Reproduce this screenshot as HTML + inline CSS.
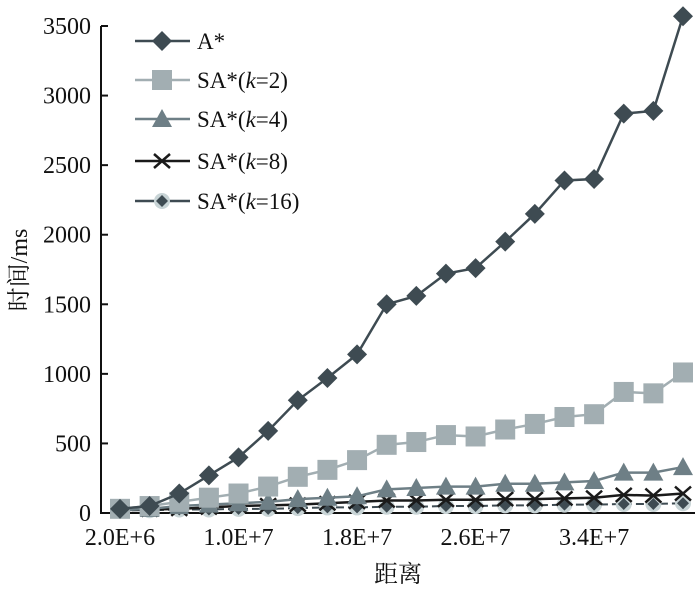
<!DOCTYPE html>
<html><head><meta charset="utf-8"><style>
body{margin:0;background:#fff}
svg text{font-family:"Liberation Serif","Noto Serif CJK SC",serif;fill:#111}
</style></head><body>
<svg id="chart" width="700" height="585" xmlns="http://www.w3.org/2000/svg"></svg>
<script>
const categories=["2.0E+6","4.0E+6","6.0E+6","8.0E+6","1.0E+7","1.2E+7","1.4E+7","1.6E+7","1.8E+7","2.0E+7","2.2E+7","2.4E+7","2.6E+7","2.8E+7","3.0E+7","3.2E+7","3.4E+7","3.6E+7","3.8E+7","4.0E+7"];
const xTickLabels=["2.0E+6","1.0E+7","1.8E+7","2.6E+7","3.4E+7"];
const yTicks=[0,500,1000,1500,2000,2500,3000,3500];
const seriesA=[30,50,140,270,400,590,810,970,1140,1500,1560,1720,1760,1950,2150,2390,2400,2870,2890,3570];
const seriesK2=[30,50,80,110,140,190,260,310,380,490,510,560,550,600,640,690,710,870,860,1010];
const seriesK4=[20,30,50,60,70,80,100,110,120,170,180,190,190,210,210,220,230,290,290,330];
const seriesK8=[20,25,30,40,50,55,60,70,80,90,90,95,95,100,100,105,110,130,125,140];
const seriesK16=[20,20,25,25,30,30,35,40,40,45,45,50,50,55,55,60,60,65,65,70];
const seriesNames=["A*","SA*(k=2)","SA*(k=4)","SA*(k=8)","SA*(k=16)"];

const svg=document.getElementById('chart');
const NS='http://www.w3.org/2000/svg';
const x0=120,x1=683,yBase=513,yTop=26,yMax=3500;
const xs=i=>x0+(x1-x0)*i/(categories.length-1);
const ys=v=>yBase-(yBase-yTop)*v/yMax;
function mk(tag,attrs,parent){const e=document.createElementNS(NS,tag);for(const k in attrs)e.setAttribute(k,attrs[k]);(parent||svg).appendChild(e);return e;}

const ax=mk('path',{d:`M101 ${yTop} V${yBase} H695`,stroke:'#111','stroke-width':2,fill:'none'});


yTicks.forEach(v=>{
  const t=mk('line',{x1:101,x2:108,y1:ys(v),y2:ys(v),stroke:'#111','stroke-width':2});
  
  
  const l=mk('text',{x:91,y:ys(v)+8,'text-anchor':'end','font-size':24});
  l.textContent=v;
  
  
});
xTickLabels.forEach(lbl=>{
  const i=categories.indexOf(lbl);
  const l=mk('text',{x:xs(i),y:545,'text-anchor':'middle','font-size':24});
  l.textContent=lbl;
  
  
});
const xt=mk('text',{x:398,y:582,'text-anchor':'middle','font-size':24});
xt.textContent='距离';


const yt=mk('text',{x:0,y:0,'text-anchor':'middle','font-size':24,transform:'translate(27,270) rotate(-90)'});
yt.textContent='时间/ms';



function marker(type,cx,cy,color,g){
  if(type==='diamond') return mk('polygon',{points:`${cx},${cy-10} ${cx+10},${cy} ${cx},${cy+10} ${cx-10},${cy}`,fill:color},g);
  if(type==='square') return mk('rect',{x:cx-10,y:cy-10,width:20,height:20,fill:color},g);
  if(type==='triangle') return mk('polygon',{points:`${cx},${cy-10} ${cx+10},${cy+8} ${cx-10},${cy+8}`,fill:color},g);
  if(type==='x') return mk('path',{d:`M${cx-8} ${cy-7}L${cx+8} ${cy+7}M${cx-8} ${cy+7}L${cx+8} ${cy-7}`,stroke:color,'stroke-width':2.5},g);
  const gg=mk('g',{},g);
  mk('circle',{cx,cy,r:8,fill:'#c8d4d6'},gg);
  mk('polygon',{points:`${cx},${cy-6} ${cx+6},${cy} ${cx},${cy+6} ${cx-6},${cy}`,fill:color},gg);
  return gg;
}
const specs=[
  {data:seriesK16,color:'#3e4b52',m:'small',dash:'8 4',w:2,name:'series-k16'},
  {data:seriesK8,color:'#1a1a1a',m:'x',dash:'',w:2.5,name:'series-k8'},
  {data:seriesK4,color:'#6e7f86',m:'triangle',dash:'',w:2.5,name:'series-k4'},
  {data:seriesK2,color:'#a2aeb2',m:'square',dash:'',w:2.5,name:'series-k2'},
  {data:seriesA,color:'#3e4b52',m:'diamond',dash:'',w:2.5,name:'series-a-star'}
];
specs.forEach(s=>{
  const g=mk('g',{});
  
  
  const p=mk('polyline',{points:s.data.map((v,i)=>xs(i)+','+ys(v)).join(' '),fill:'none',stroke:s.color,'stroke-width':s.w,'stroke-dasharray':s.dash},g);
  
  
  s.data.forEach((v,i)=>{
    const m=marker(s.m,xs(i),ys(v),s.color,g);
    
    
  });
});

const legend=mk('g',{});


const legSpecs=[['diamond','#3e4b52'],['square','#a2aeb2'],['triangle','#6e7f86'],['x','#1a1a1a'],['small','#3e4b52']];
const legY=[41,80,119,161,201];
seriesNames.forEach((n,i)=>{
  const g=mk('g',{},legend);
  
  
  mk('line',{x1:135,x2:190,y1:legY[i],y2:legY[i],stroke:legSpecs[i][1],'stroke-width':2.5},g);
  marker(legSpecs[i][0],162,legY[i],legSpecs[i][1],g);
  const t=mk('text',{x:197,y:legY[i]+8,'font-size':23},g);
  const m=n.match(/^(.*\()k(=.*)$/);
  if(m){t.appendChild(document.createTextNode(m[1]));const it=mk('tspan',{'font-style':'italic'},t);it.textContent='k';t.appendChild(document.createTextNode(m[2]));}
  else t.textContent=n;
});
</script>
</body></html>
